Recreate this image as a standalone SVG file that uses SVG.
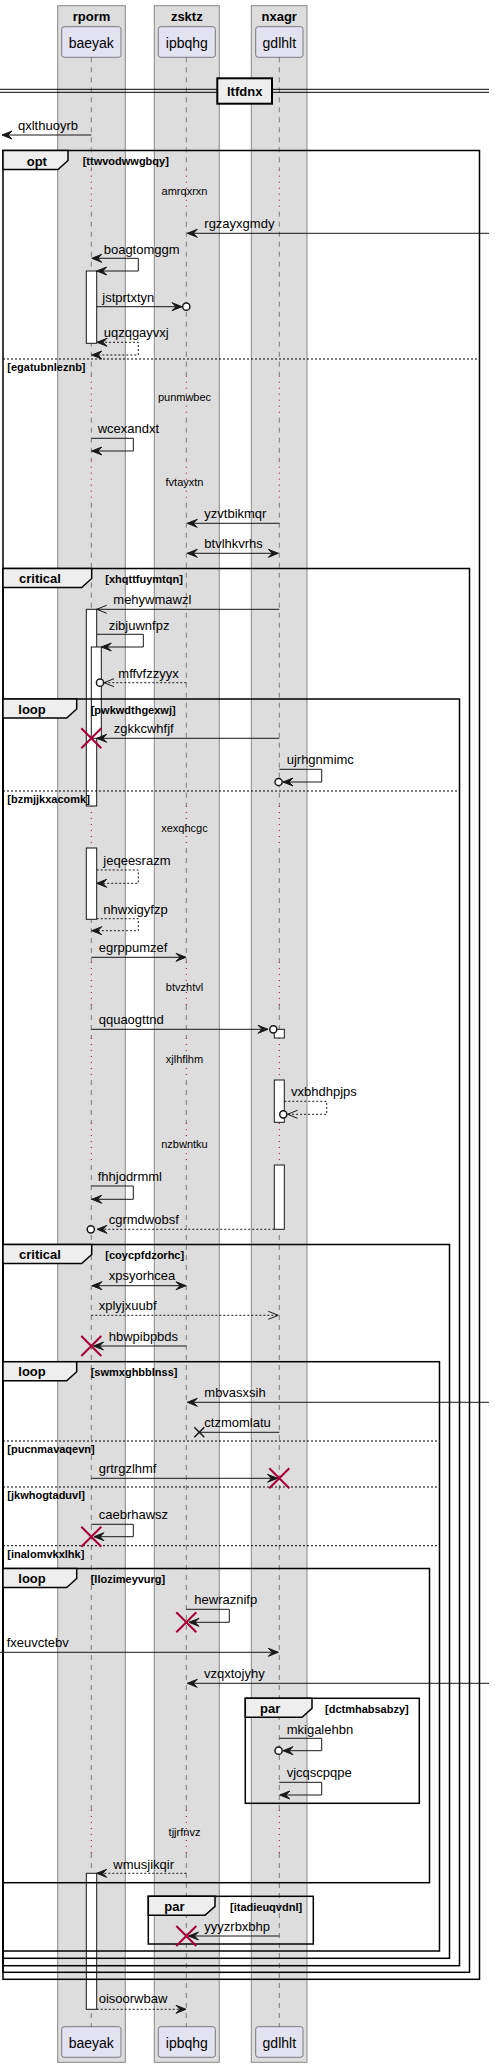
<svg xmlns="http://www.w3.org/2000/svg" width="495" height="2067" viewBox="0 0 495 2067">
<style>
.box{fill:#DDDDDD;stroke:#888888;stroke-width:1}
.part{fill:#E2E2F0;stroke:#181818;stroke-width:.5}
.ll{stroke:#181818;stroke-width:.5;stroke-dasharray:5,5;fill:none}
.dl{stroke:#A80036;stroke-width:1;stroke-dasharray:1,5;fill:none}
.msg{stroke:#181818;stroke-width:1;fill:none}
.dash{stroke-dasharray:2,2}
.act{fill:#FFFFFF;stroke:#181818;stroke-width:1}
.frame{fill:none;stroke:#000;stroke-width:1.5}
.tab{fill:#EEEEEE;stroke:#000;stroke-width:1.5}
.sep{stroke:#000;stroke-width:1;stroke-dasharray:2,2;fill:none}
.hd{fill:#181818;stroke:#181818;stroke-width:1}
.op{fill:none;stroke:#181818;stroke-width:1}
.ci{fill:#FFFFFF;stroke:#181818;stroke-width:1.5}
.xr{stroke:#A80036;stroke-width:2;fill:none}
.xb{stroke:#181818;stroke-width:1.5;fill:none}
text{font-family:"Liberation Sans",Arial,sans-serif;fill:#000}
.t13{font-size:13px}
.t11{font-size:11px}
.t14{font-size:14px}
.b13{font-size:13px;font-weight:bold}
.b11{font-size:11px;font-weight:bold}
</style>
<defs>
<path id="hL" class="hd" d="M0,0 L10,-4 L6,0 L10,4 Z"/>
<path id="hR" class="hd" d="M0,0 L-10,-4 L-6,0 L-10,4 Z"/>
<path id="oL" class="op" d="M10,-4 L0,0 L10,4"/>
<path id="oR" class="op" d="M-10,-4 L0,0 L-10,4"/>
<circle id="cc" class="ci" r="3.6"/>
<path id="xR" class="xr" d="M-10,-10 L10,10 M-10,10 L10,-10"/>
<path id="xB" class="xb" d="M-5,-5 L5,5 M-5,5 L5,-5"/>
</defs>
<rect width="495" height="2067" fill="#FFFFFF"/>
<g id="boxes">
<rect class="box" x="57.7" y="5.7" width="67.6" height="2056.6"/>
<rect class="box" x="154.3" y="5.7" width="65" height="2056.6"/>
<rect class="box" x="251.3" y="5.7" width="55.7" height="2056.6"/>
<text class="b13" x="91.5" y="21" text-anchor="middle">rporm</text>
<text class="b13" x="186.8" y="21" text-anchor="middle">zsktz</text>
<text class="b13" x="279.2" y="21" text-anchor="middle">nxagr</text>
</g>
<g id="lifelines">
<path class="ll" d="M91.3,57.3V169.7M91.3,211.7V375.7M91.3,417.7V460.7M91.3,502.7V806M91.3,848V962M91.3,1005V1038M91.3,1080V1123M91.3,1165V1810M91.3,1853V2026.7"/>
<path class="ll" d="M186.3,57.3V169.7M186.3,211.7V375.7M186.3,417.7V460.7M186.3,502.7V806M186.3,848V962M186.3,1005V1038M186.3,1080V1123M186.3,1165V1810M186.3,1853V2026.7"/>
<path class="ll" d="M279.3,57.3V169.7M279.3,211.7V375.7M279.3,417.7V460.7M279.3,502.7V806M279.3,848V962M279.3,1005V1038M279.3,1080V1123M279.3,1165V1810M279.3,1853V2026.7"/>
<path class="dl" d="M91.3,169.7V211.7M91.3,375.7V417.7M91.3,460.7V502.7M91.3,806V848M91.3,962V1005M91.3,1038V1080M91.3,1123V1165M91.3,1810V1853"/>
<path class="dl" d="M186.3,169.7V211.7M186.3,375.7V417.7M186.3,460.7V502.7M186.3,806V848M186.3,962V1005M186.3,1038V1080M186.3,1123V1165M186.3,1810V1853"/>
<path class="dl" d="M279.3,169.7V211.7M279.3,375.7V417.7M279.3,460.7V502.7M279.3,806V848M279.3,962V1005M279.3,1038V1080M279.3,1123V1165M279.3,1810V1853"/>
</g>
<g id="baeyak">
<rect class="part" x="61.7" y="26.7" width="59.3" height="30.6" rx="2.5"/>
<text class="t14" x="91.3" y="48" text-anchor="middle">baeyak</text>
<rect class="part" x="61.7" y="2026.7" width="59.3" height="30.6" rx="2.5"/>
<text class="t14" x="91.3" y="2048" text-anchor="middle">baeyak</text>
</g>
<g id="ipbqhg">
<rect class="part" x="158.3" y="26.7" width="57" height="30.6" rx="2.5"/>
<text class="t14" x="186.8" y="48" text-anchor="middle">ipbqhg</text>
<rect class="part" x="158.3" y="2026.7" width="57" height="30.6" rx="2.5"/>
<text class="t14" x="186.8" y="2048" text-anchor="middle">ipbqhg</text>
</g>
<g id="gdlhlt">
<rect class="part" x="255.7" y="26.7" width="47.3" height="30.6" rx="2.5"/>
<text class="t14" x="279.3" y="48" text-anchor="middle">gdlhlt</text>
<rect class="part" x="255.7" y="2026.7" width="47.3" height="30.6" rx="2.5"/>
<text class="t14" x="279.3" y="2048" text-anchor="middle">gdlhlt</text>
</g>
<g id="divider">
<path d="M0,89.3H489M0,92.3H489" stroke="#000" stroke-width="1" fill="none"/>
<rect x="217.3" y="78.3" width="54.7" height="25.4" fill="#EEEEEE" stroke="#000" stroke-width="2"/>
<text class="b13" x="244.7" y="96" text-anchor="middle">ltfdnx</text>
</g>
<g id="activations">
<rect class="act" x="86.3" y="271" width="10.4" height="72.3"/>
<rect class="act" x="86.3" y="609.3" width="10.4" height="196.7"/>
<rect class="act" x="91.3" y="647" width="10" height="91.3"/>
<rect class="act" x="86.3" y="848" width="10.4" height="71.3"/>
<rect class="act" x="274.3" y="1029.3" width="10" height="8.7"/>
<rect class="act" x="274.3" y="1080" width="10" height="42.3"/>
<rect class="act" x="274.3" y="1165" width="10" height="64.3"/>
<rect class="act" x="86.3" y="1873.3" width="10.4" height="136"/>
</g>
<g id="frames">
<rect class="frame" x="3" y="150.5" width="476.5" height="1828.8"/>
<polygon class="tab" points="3,150.5 68,150.5 68,160.5 58,169.5 3,169.5"/>
<text class="b13" x="26.7" y="165.5">opt</text>
<text class="b11" x="82.7" y="165">[ttwvodwwgbqy]</text>
<path class="sep" d="M3,359H479.5"/>
<text class="b11" x="7.3" y="371">[egatubnleznb]</text>

<rect class="frame" x="3" y="568.5" width="466.5" height="1403.8"/>
<polygon class="tab" points="3,568.5 91.7,568.5 91.7,578.5 81.7,587.5 3,587.5"/>
<text class="b13" x="19" y="583">critical</text>
<text class="b11" x="105.3" y="583">[xhqttfuymtqn]</text>

<rect class="frame" x="3" y="699" width="456.5" height="1266.7"/>
<polygon class="tab" points="3,699 76.7,699 76.7,709 66.7,718 3,718"/>
<text class="b13" x="18.3" y="713.5">loop</text>
<text class="b11" x="90.7" y="713.5">[pwkwdthgexwj]</text>
<path class="sep" d="M3,791H459.5"/>
<text class="b11" x="7.3" y="803">[bzmjjkxacomk]</text>

<rect class="frame" x="3" y="1244.5" width="446.5" height="713.8"/>
<polygon class="tab" points="3,1244.5 91.7,1244.5 91.7,1254.5 81.7,1263.5 3,1263.5"/>
<text class="b13" x="19" y="1259">critical</text>
<text class="b11" x="105.3" y="1259">[coycpfdzorhc]</text>

<rect class="frame" x="3" y="1361.7" width="436.5" height="589.3"/>
<polygon class="tab" points="3,1361.7 76.7,1361.7 76.7,1371.7 66.7,1380.7 3,1380.7"/>
<text class="b13" x="18.3" y="1376">loop</text>
<text class="b11" x="90.7" y="1376">[swmxghbblnss]</text>
<path class="sep" d="M3,1441H439.5M3,1487H439.5M3,1545.7H439.5"/>
<text class="b11" x="7.3" y="1452.5">[pucnmavaqevn]</text>
<text class="b11" x="7.3" y="1498.5">[jkwhogtaduvl]</text>
<text class="b11" x="7.3" y="1557.5">[inalomvkxlhk]</text>

<rect class="frame" x="3" y="1568.5" width="426.5" height="314.2"/>
<polygon class="tab" points="3,1568.5 76.7,1568.5 76.7,1578.5 66.7,1587.5 3,1587.5"/>
<text class="b13" x="18.3" y="1583">loop</text>
<text class="b11" x="90.7" y="1583">[llozimeyvurg]</text>

<rect class="frame" x="245.3" y="1698.3" width="174" height="105"/>
<polygon class="tab" points="245.3,1698.3 312,1698.3 312,1708.3 302,1717.3 245.3,1717.3"/>
<text class="b13" x="260" y="1712.5">par</text>
<text class="b11" x="325" y="1712.5">[dctmhabsabzy]</text>

<rect class="frame" x="148.3" y="1896.3" width="165" height="47.7"/>
<polygon class="tab" points="148.3,1896.3 215,1896.3 215,1906.3 205,1915.3 148.3,1915.3"/>
<text class="b13" x="164.3" y="1911">par</text>
<text class="b11" x="230" y="1911">[itadieuqvdnl]</text>
</g>
<g id="delays">
<text class="t11" x="184.5" y="194.7" text-anchor="middle">amrqxrxn</text>
<text class="t11" x="184.5" y="400.7" text-anchor="middle">punmwbec</text>
<text class="t11" x="184.5" y="485.7" text-anchor="middle">fvtayxtn</text>
<text class="t11" x="184.5" y="832.3" text-anchor="middle">xexqhcgc</text>
<text class="t11" x="184.5" y="990.7" text-anchor="middle">btvzhtvl</text>
<text class="t11" x="184.5" y="1063.3" text-anchor="middle">xjlhfihm</text>
<text class="t11" x="184.5" y="1148.3" text-anchor="middle">nzbwntku</text>
<text class="t11" x="184.5" y="1835.7" text-anchor="middle">tjjrfnvz</text>
</g>
<g id="connectors">
<path class="msg" d="M91.3,135H2"/><use href="#hL" x="2" y="135"/>
<text class="t13" x="18" y="130">qxlthuoyrb</text>

<path class="msg" d="M489,233.3H187.3"/><use href="#hL" x="187.3" y="233.3"/>
<text class="t13" x="204.3" y="228">rgzayxgmdy</text>

<path class="msg" d="M93,258.3H138.3V271H96.7"/><use href="#hL" x="91.8" y="258.3"/><use href="#hL" x="96.7" y="271"/>
<text class="t13" x="103.7" y="254">boagtomggm</text>

<path class="msg" d="M96.7,306.7H182"/><use href="#hR" x="182" y="306.7"/><use href="#cc" x="186.3" y="306.7"/>
<text class="t13" x="102.3" y="301.5">jstprtxtyn</text>

<path class="msg dash" d="M97,342.3H138.3V355H91.3"/><use href="#hL" x="97" y="342.3"/><use href="#hL" x="91.8" y="355"/>
<text class="t13" x="103.7" y="337">uqzqgayvxj</text>

<path class="msg" d="M91.3,438.3H133.3V451H91.3"/><use href="#hL" x="91.8" y="451"/>
<text class="t13" x="97.7" y="433">wcexandxt</text>

<path class="msg" d="M279.3,523.3H187.3"/><use href="#hL" x="187.3" y="523.3"/>
<text class="t13" x="204.3" y="518">yzvtbikmqr</text>

<path class="msg" d="M187.3,553.3H278.3"/><use href="#hL" x="187.3" y="553.3"/><use href="#hR" x="278.3" y="553.3"/>
<text class="t13" x="204.3" y="548">btvlhkvrhs</text>

<path class="msg" d="M279.3,609.3H96.7"/><use href="#oL" x="96.7" y="609.3"/>
<text class="t13" x="113.3" y="604">mehywmawzl</text>

<path class="msg" d="M96.7,634.3H143.3V647H101.3"/><use href="#hL" x="101.3" y="647"/>
<text class="t13" x="108.7" y="629.5">zibjuwnfpz</text>

<path class="msg dash" d="M186.3,682.7H104"/><use href="#oL" x="104" y="682.7"/><use href="#cc" x="100" y="682.7"/>
<text class="t13" x="118.3" y="677.5">mffvfzzyyx</text>

<path class="msg" d="M279.3,738.3H96.7"/><use href="#hL" x="96.7" y="738.3"/><use href="#xR" x="91.3" y="738.3"/>
<text class="t13" x="113.7" y="733">zgkkcwhfjf</text>

<path class="msg" d="M279.3,769.3H321.7V782H283"/><use href="#hL" x="283" y="782"/><use href="#cc" x="278.6" y="782"/>
<text class="t13" x="286.7" y="764">ujrhgnmimc</text>

<path class="msg dash" d="M96.7,870H138.3V883.3H96.7"/><use href="#hL" x="96.7" y="883.3"/>
<text class="t13" x="103.3" y="865">jeqeesrazm</text>

<path class="msg dash" d="M96.7,918.7H138.3V930.7H91.3"/><use href="#hL" x="91.8" y="930.7"/>
<text class="t13" x="103.3" y="914">nhwxigyfzp</text>

<path class="msg" d="M91.3,957.3H186"/><use href="#hR" x="186" y="957.3"/>
<text class="t13" x="98.7" y="952">egrppumzef</text>

<path class="msg" d="M91.3,1029.3H268"/><use href="#hR" x="268" y="1029.3"/><use href="#cc" x="273.3" y="1029.3"/>
<text class="t13" x="98.7" y="1024">qquaogttnd</text>

<path class="msg dash" d="M284.3,1101.3H326.7V1114.3H287.5"/><use href="#oL" x="287.5" y="1114.3"/><use href="#cc" x="283.3" y="1114.3"/>
<text class="t13" x="291" y="1096">vxbhdhpjps</text>

<path class="msg" d="M91.3,1186H133.3V1199.3H91.3"/><use href="#hL" x="91.8" y="1199.3"/>
<text class="t13" x="97.7" y="1181">fhhjodrmml</text>

<path class="msg dash" d="M274.3,1229.3H97"/><use href="#hL" x="97" y="1229.3"/><use href="#cc" x="90.8" y="1229.3"/>
<text class="t13" x="108.7" y="1223.5">cgrmdwobsf</text>

<path class="msg" d="M92,1285.7H186"/><use href="#hL" x="92" y="1285.7"/><use href="#hR" x="186" y="1285.7"/>
<text class="t13" x="108.7" y="1280">xpsyorhcea</text>

<path class="msg dash" d="M91.3,1315.3H278.3"/><use href="#oR" x="278.3" y="1315.3"/>
<text class="t13" x="98.7" y="1310">xplyjxuubf</text>

<path class="msg" d="M186.3,1346H93.5"/><use href="#hL" x="93.5" y="1346"/><use href="#xR" x="91.3" y="1346"/>
<text class="t13" x="108.7" y="1341">hbwpibpbds</text>

<path class="msg" d="M489,1402.3H187.3"/><use href="#hL" x="187.3" y="1402.3"/>
<text class="t13" x="204.3" y="1397">mbvasxsih</text>

<path class="msg" d="M279.3,1432.3H199.3"/><use href="#xB" x="199.3" y="1432.3"/>
<text class="t13" x="204.3" y="1427">ctzmomlatu</text>

<path class="msg" d="M91.3,1478.3H277.5"/><use href="#hR" x="277.5" y="1478.3"/><use href="#xR" x="279.3" y="1478.3"/>
<text class="t13" x="98.7" y="1473">grtrgzlhmf</text>

<path class="msg" d="M91.3,1524.3H133.3V1536.7H94"/><use href="#hL" x="94" y="1536.7"/><use href="#xR" x="91.3" y="1536.7"/>
<text class="t13" x="98.7" y="1519">caebrhawsz</text>

<path class="msg" d="M186.3,1609.3H229.3V1622.3H189"/><use href="#hL" x="189" y="1622.3"/><use href="#xR" x="186.3" y="1622.3"/>
<text class="t13" x="194.3" y="1604">hewraznifp</text>

<path class="msg" d="M0,1652.3H278.3"/><use href="#hR" x="278.3" y="1652.3"/>
<text class="t13" x="6.7" y="1647">fxeuvctebv</text>

<path class="msg" d="M489,1683.3H187.3"/><use href="#hL" x="187.3" y="1683.3"/>
<text class="t13" x="204" y="1678">vzqxtojyhy</text>

<path class="msg" d="M279.3,1738.3H321.7V1750.7H283"/><use href="#hL" x="283" y="1750.7"/><use href="#cc" x="278.6" y="1750.7"/>
<text class="t13" x="286.7" y="1733.5">mkigalehbn</text>

<path class="msg" d="M279.3,1782.3H321.7V1795H279.8"/><use href="#hL" x="279.8" y="1795"/>
<text class="t13" x="286.7" y="1777">vjcqscpqpe</text>

<path class="msg dash" d="M186.3,1873.3H96.7"/><use href="#hL" x="96.7" y="1873.3"/>
<text class="t13" x="113.3" y="1868.5">wmusjikqir</text>

<path class="msg" d="M279.3,1936H188.5"/><use href="#hL" x="188.5" y="1936"/><use href="#xR" x="186.3" y="1936"/>
<text class="t13" x="204.3" y="1931">yyyzrbxbhp</text>

<path class="msg dash" d="M96.7,2009.3H186"/><use href="#hR" x="186" y="2009.3"/>
<text class="t13" x="98.7" y="2003">oisoorwbaw</text>
</g>
</svg>
